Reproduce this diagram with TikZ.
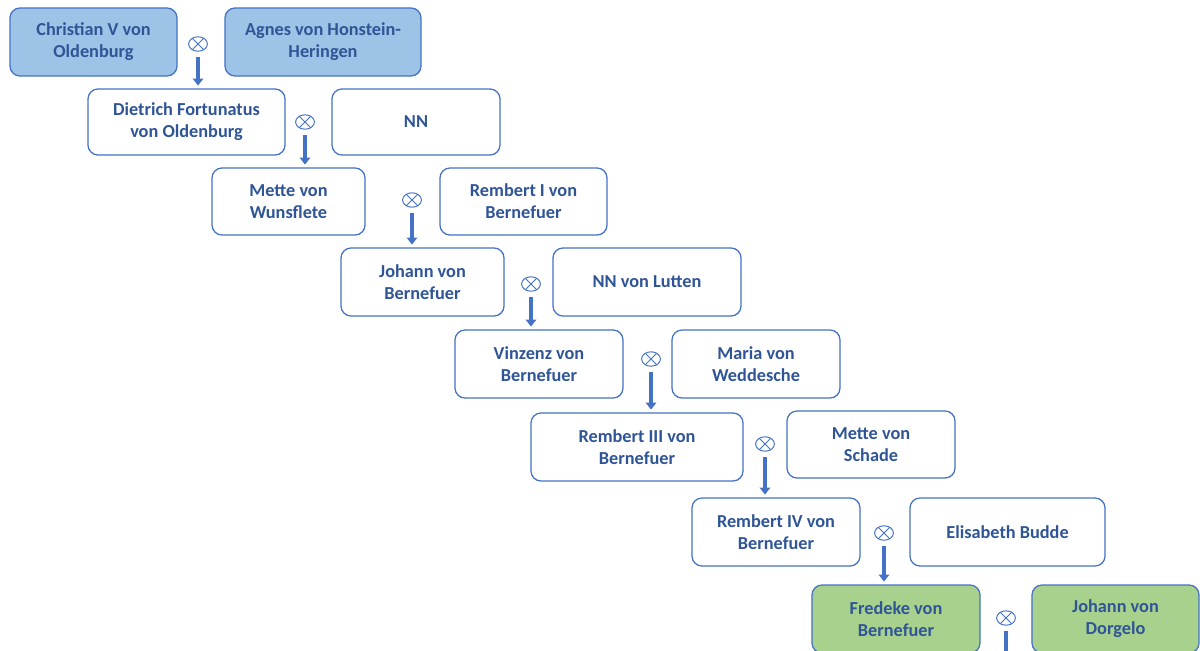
\documentclass[tikz,border=0pt]{standalone}
\usepackage{fontspec}
\setmainfont{Carlito}
\usetikzlibrary{shapes.geometric,arrows.meta,positioning}
\definecolor{txtblue}{RGB}{47,85,151}
\definecolor{lineblue}{RGB}{68,114,196}
\definecolor{fillblue}{RGB}{157,195,230}
\definecolor{fillgreen}{RGB}{169,209,142}
\tikzstyle{person}=[rectangle, rounded corners=0.25cm, draw=lineblue, line width=0.9pt, fill=white, text=txtblue, font=\fontsize{13}{15.6}\selectfont\bfseries, align=center, inner sep=2pt, minimum width=4.2cm, minimum height=1.7cm]
\tikzstyle{root}=[person, fill=fillblue]
\tikzstyle{last}=[person, fill=fillgreen]
\tikzstyle{wed}=[ellipse, draw=lineblue, line width=0.7pt, minimum width=0.47cm, minimum height=0.36cm, inner sep=0pt]
\tikzstyle{desc}=[draw=lineblue, line width=2.2pt, -{Triangle[length=5pt,width=7.5pt]}]

\begin{document}
\begin{tikzpicture}[x=0.025cm, y=-0.025cm]
  \path[use as bounding box, clip] (0,0) rectangle (1200,650);
%
  \node[root, minimum width=4.175cm] (c1) at (93.5,42) {Christian V von\\Oldenburg};
  \node[root, minimum width=4.9cm] (c2) at (323,42) {Agnes von Honstein-\\Heringen};
  \node[person, minimum width=4.925cm, minimum height=1.65cm] (c3) at (186.5,122) {Dietrich Fortunatus\\von Oldenburg};
  \node[person, minimum height=1.65cm] (c4) at (416,122) {NN};
  \node[person, minimum width=3.825cm, minimum height=1.675cm] (c5) at (288.5,201.5) {Mette von\\Wunsflete};
  \node[person, minimum width=4.175cm, minimum height=1.675cm] (c6) at (523.5,201.5) {Rembert I von\\Bernefuer};
  \node[person, minimum width=4.075cm] (c7) at (422.5,282) {Johann von\\Bernefuer};
  \node[person, minimum width=4.7cm] (c8) at (647,282) {NN von Lutten};
  \node[person] (c9) at (539,364) {Vinzenz von\\Bernefuer};
  \node[person] (c10) at (756,364) {Maria von\\Weddesche};
  \node[person, minimum width=5.3cm] (c11) at (637,447) {Rembert III von\\Bernefuer};
  \node[person, minimum height=1.675cm] (c12) at (871,444.5) {Mette von\\Schade};
  \node[person] (c13) at (776,532) {Rembert IV von\\Bernefuer};
  \node[person, minimum width=4.875cm] (c14) at (1007.5,532) {Elisabeth Budde};
  \node[last] (c15) at (896,619) {Fredeke von\\Bernefuer};
  \node[last, minimum width=4.175cm] (c16) at (1115.5,619) {Johann von\\Dorgelo};
%
  \foreach \n/\x/\y in {1/198/44, 2/305/122, 3/412/200, 4/531/284, 5/651/359, 6/765/444, 7/884/533, 8/1006/618}{
    \node[wed] (m\n) at (\x,\y) {};
    \draw[lineblue, line width=0.7pt] (m\n.45) -- (m\n.225) (m\n.135) -- (m\n.315);
  }
%
  \foreach \n/\c in {1/c3, 2/c5, 3/c7, 4/c9, 5/c11, 6/c13, 7/c15}
    \draw[desc, shorten >=2pt] ([yshift=-0.125cm]m\n.south) -- (m\n.south |- \c.north);
  \coordinate (end) at (1006,670);
  \draw[desc] ([yshift=-0.125cm]m8.south) -- (end);
%
\end{tikzpicture}
\end{document}
